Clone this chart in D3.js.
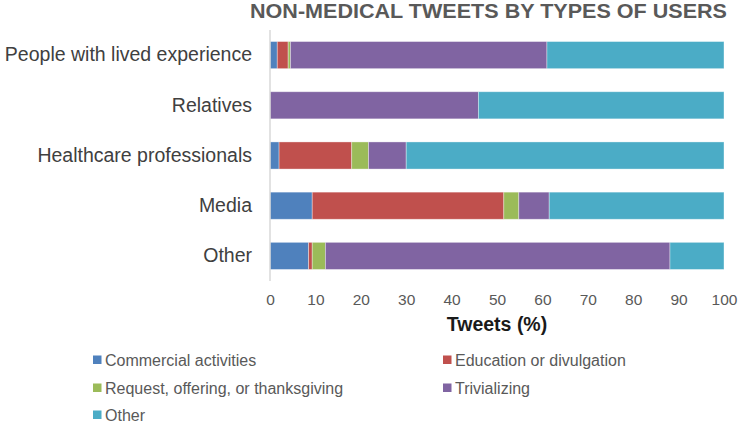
<!DOCTYPE html>
<html>
<head>
<meta charset="utf-8">
<script src="https://cdn.jsdelivr.net/npm/d3@7"></script>
<style>
  html, body { margin: 0; padding: 0; background: #fff; }
  svg { display: block; font-family: "Liberation Sans", Arial, sans-serif; }
</style>
</head>
<body>
<svg id="chart" width="741" height="424"></svg>
<script>
const categories = ["People with lived experience", "Relatives", "Healthcare professionals", "Media", "Other"];
const seriesNames = ["Commercial activities", "Education or divulgation", "Request, offering, or thanksgiving", "Trivializing", "Other"];
const commercial = [1.6, 0, 2.0, 9.3, 8.5];
const education  = [2.4, 0, 16.0, 42.2, 0.8];
const request    = [0.5, 0, 3.7, 3.3, 2.9];
const trivial    = [56.5, 45.9, 8.3, 6.7, 75.9];
const otherVals  = [39.0, 54.1, 70.0, 38.5, 11.9];
const colors = ["#4F81BD", "#C0504D", "#9BBB59", "#8064A2", "#4BACC6"];
const xTicks = [0, 10, 20, 30, 40, 50, 60, 70, 80, 90, 100];
const title = "NON-MEDICAL TWEETS BY TYPES OF USERS";
const xTitle = "Tweets (%)";

const seriesValues = [commercial, education, request, trivial, otherVals];
const rows = categories.map((c, i) => {
  const r = { category: c };
  seriesNames.forEach((s, j) => r["s" + j] = seriesValues[j][i]);
  return r;
});
const keys = seriesNames.map((s, j) => "s" + j);
const stacked = d3.stack().keys(keys)(rows);

const svg = d3.select("#chart");
const x = d3.scaleLinear().domain([0, 100]).range([270, 724]);
const y = d3.scaleBand().domain(categories).range([30, 281]).paddingInner(0.46).paddingOuter(0.23);

// title
svg.append("text")
  .attr("x", 727).attr("y", 18)
  .attr("text-anchor", "end")
  .attr("font-size", 20).attr("font-weight", "bold")
  .attr("fill", "#595959")
  .attr("textLength", 477).attr("lengthAdjust", "spacingAndGlyphs")
  .text(title);

// bars
svg.append("g").selectAll("g").data(stacked).join("g")
  .attr("fill", (d, i) => colors[i])
  .selectAll("rect").data(d => d).join("rect")
  .attr("x", d => x(d[0]))
  .attr("y", d => y(d.data.category))
  .attr("width", d => Math.max(0, x(d[1]) - x(d[0])))
  .attr("height", y.bandwidth())
  .attr("stroke", "#ffffff").attr("stroke-opacity", 0.45).attr("stroke-width", 0.8);

// y axis line
svg.append("line")
  .attr("x1", 270).attr("x2", 270).attr("y1", 30).attr("y2", 281)
  .attr("stroke", "#d9d9d9").attr("stroke-width", 1.5);

// category labels via axis
const yAxis = svg.append("g").attr("transform", "translate(270,0)")
  .call(d3.axisLeft(y).tickSize(0).tickPadding(18));
yAxis.select(".domain").remove();
yAxis.selectAll("text")
  .attr("font-size", 19.5).attr("fill", "#404040")
  .attr("font-family", "Liberation Sans, Arial, sans-serif");

// x axis
const xAxis = svg.append("g").attr("transform", "translate(0,287)")
  .call(d3.axisBottom(x).tickValues(xTicks).tickSize(0).tickPadding(7));
xAxis.select(".domain").remove();
xAxis.selectAll("text")
  .attr("font-size", 15.5).attr("fill", "#595959")
  .attr("font-family", "Liberation Sans, Arial, sans-serif");

svg.append("text")
  .attr("x", 497).attr("y", 331)
  .attr("text-anchor", "middle")
  .attr("font-size", 19.5).attr("font-weight", "bold")
  .attr("fill", "#1a1a1a")
  .text(xTitle);

// legend
const legendPos = [[93, 360], [443, 360], [93, 388], [443, 388], [93, 415]];
const leg = svg.append("g").selectAll("g").data(seriesNames).join("g")
  .attr("transform", (d, i) => `translate(${legendPos[i][0]},${legendPos[i][1]})`);
leg.append("rect").attr("x", 0).attr("y", -4.5).attr("width", 8.5).attr("height", 8.5)
  .attr("fill", (d, i) => colors[i]);
leg.append("text").attr("x", 12).attr("y", 0).attr("dy", "0.35em")
  .attr("font-size", 16).attr("fill", "#595959")
  .text(d => d);
</script>
</body>
</html>
